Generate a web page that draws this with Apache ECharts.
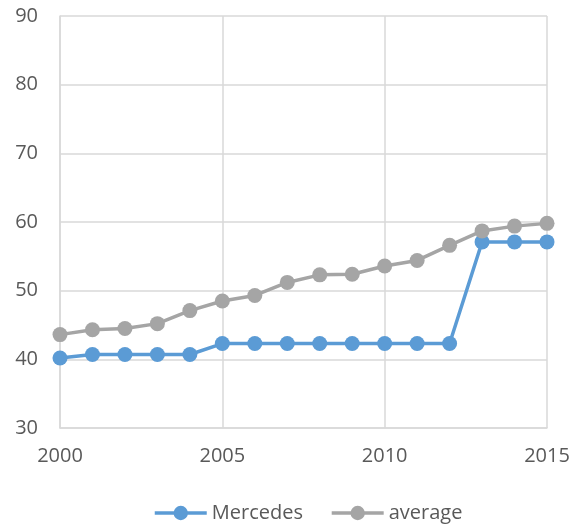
<!DOCTYPE html>
<html>
<head>
<meta charset="utf-8">
<script src="https://cdn.jsdelivr.net/npm/echarts@6/dist/echarts.min.js"></script>
<style>html,body{margin:0;padding:0;background:#fff}#c{width:580px;height:530px}</style>
</head>
<body>
<div id="c"></div>
<script>
const years = [2000,2001,2002,2003,2004,2005,2006,2007,2008,2009,2010,2011,2012,2013,2014,2015];
const mercedes = [40.2,40.7,40.7,40.7,40.7,42.3,42.3,42.3,42.3,42.3,42.3,42.3,42.3,57.1,57.1,57.1];
const average = [43.6,44.3,44.5,45.2,47.1,48.5,49.3,51.2,52.3,52.4,53.6,54.4,56.6,58.7,59.4,59.8];
const seriesNames = ['Mercedes','average'];

const font = '"Open Sans", sans-serif';
const chart = echarts.init(document.getElementById('c'));
const pair = (arr) => years.map((y,i)=>[y,arr[i]]);
chart.setOption({
  animation:false,
  backgroundColor:'#fff',
  grid:{left:60,right:33,top:16,bottom:102,containLabel:false},
  xAxis:{type:'value',min:2000,max:2015,interval:5,
    axisLine:{show:true,lineStyle:{color:'#D9D9D9',width:1.5}},
    axisTick:{show:false},
    splitLine:{show:true,lineStyle:{color:'#D9D9D9',width:1.5}},
    axisLabel:{color:'#595959',fontSize:20,fontFamily:font,margin:18,formatter:(v)=>String(v)}},
  yAxis:{type:'value',min:30,max:90,interval:10,
    axisLine:{show:true,lineStyle:{color:'#D9D9D9',width:1.5}},
    axisTick:{show:false},
    splitLine:{show:true,lineStyle:{color:'#D9D9D9',width:1.5}},
    axisLabel:{color:'#595959',fontSize:20,fontFamily:font,margin:22}},
  legend:{bottom:2,left:148,itemWidth:52,itemHeight:18,itemGap:27,
    lineStyle:{width:3.5},
    textStyle:{color:'#595959',fontSize:20,fontFamily:font},
    data:seriesNames.map(n=>({name:n,lineStyle:{width:3.5}}))},
  series:[
    {name:seriesNames[0],type:'line',data:pair(mercedes),symbol:'circle',symbolSize:15,
      lineStyle:{color:'#5B9BD5',width:3.5},itemStyle:{color:'#5B9BD5'}},
    {name:seriesNames[1],type:'line',data:pair(average),symbol:'circle',symbolSize:15,
      lineStyle:{color:'#A5A5A5',width:3.5},itemStyle:{color:'#A5A5A5'}}
  ]
});
</script>
</body>
</html>
